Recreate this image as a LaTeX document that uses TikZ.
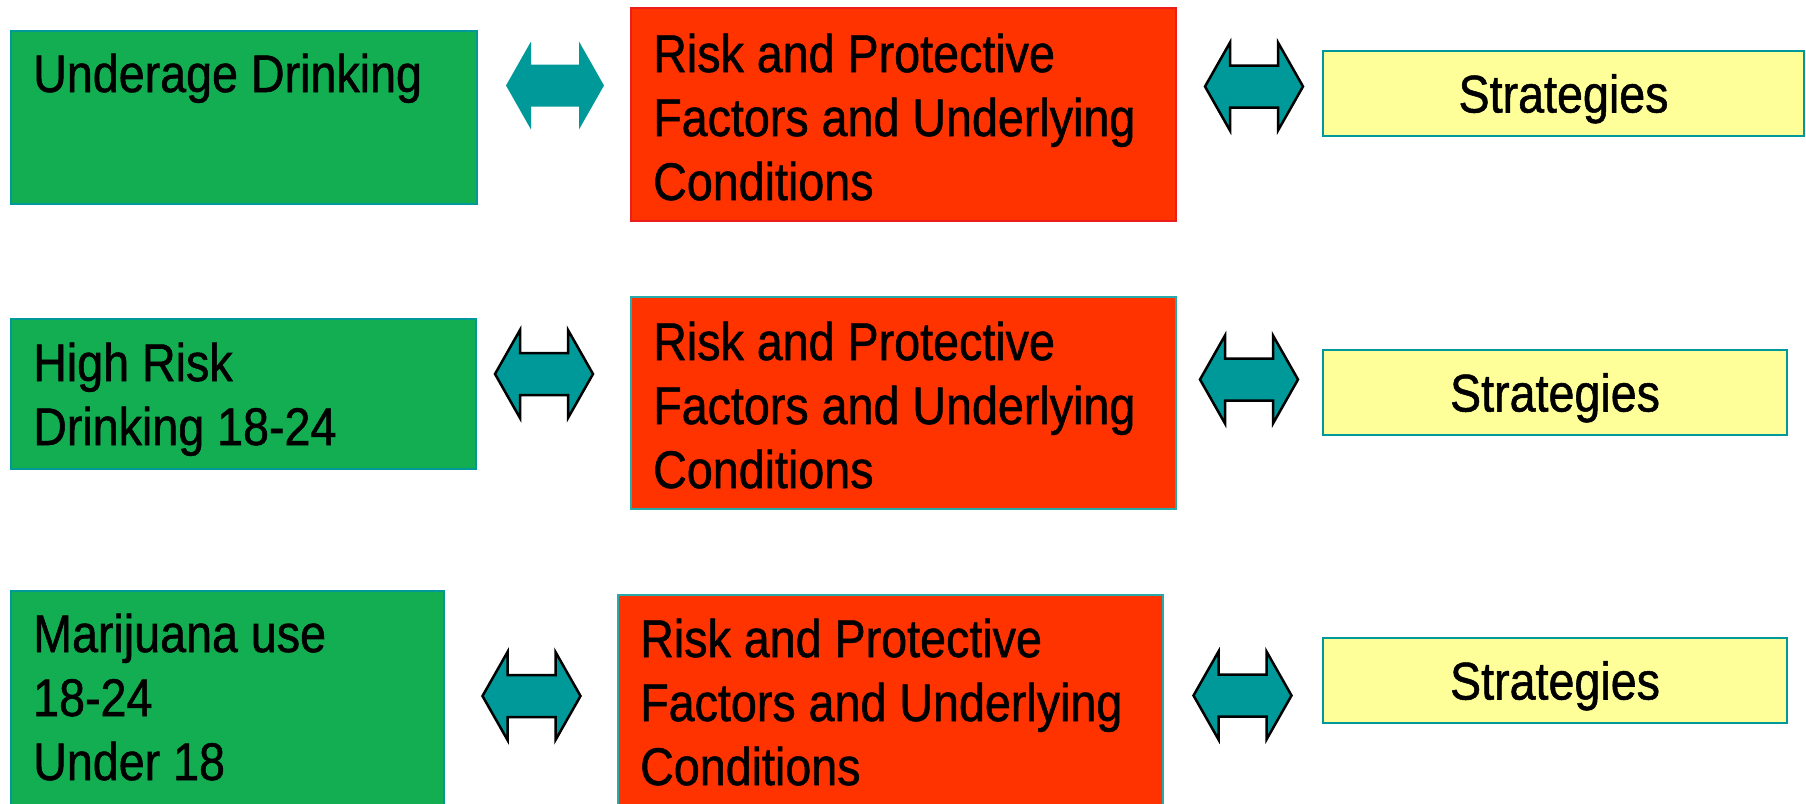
\documentclass[tikz,border=0pt]{standalone}
\usepackage{fontspec}
\setmainfont{Liberation Sans}[FakeStretch=0.88, FakeBold=1]
\definecolor{boxgreen}{RGB}{20,174,82}
\definecolor{tealc}{RGB}{0,153,153}
\definecolor{boxred}{RGB}{255,51,0}
\definecolor{boxyellow}{RGB}{255,255,153}
\definecolor{redline}{RGB}{235,30,30}
\definecolor{lightteal}{RGB}{40,170,170}
\tikzset{
  dblarr/.pic={\path[pic actions] (-49,0) -- (-24,-44) -- (-24,-21) -- (24,-21) -- (24,-44) -- (49,0) -- (24,44) -- (24,21) -- (-24,21) -- (-24,44) -- cycle;}
}
\begin{document}
\begin{tikzpicture}[x=1pt,y=-1pt,
  box/.style={rectangle, anchor=north west, inner sep=0pt, line width=2pt},
  gbox/.style={box, fill=boxgreen, draw=tealc},
  rbox/.style={box, fill=boxred, draw=lightteal},
  ybox/.style={box, fill=boxyellow, draw=tealc, font=\fontsize{53}{64}\selectfont, text height=38pt, text depth=0pt},
  lbl/.style={anchor=base west, inner sep=0pt, font=\fontsize{53}{64}\selectfont},
  arr/.style={fill=tealc, draw=black, line width=2.5pt, line join=miter},
  arrnl/.style={fill=tealc, draw=none}
]
\useasboundingbox[fill=white] (0,0) rectangle (1806,803);

% row 1
\node[gbox, minimum width=466pt, minimum height=173pt] (g1) at (10,30) {};
\node[lbl] (g1t) at (33,92) {Underage Drinking};
\node[rbox, draw=redline, minimum width=545pt, minimum height=213pt] (r1) at (630,7) {};
\node[lbl] (r1t) at (653,72) {\begin{tabular}[t]{@{}l@{}}Risk and Protective\\Factors and Underlying\\Conditions\end{tabular}};
\node[ybox, minimum width=481pt, minimum height=85pt] (y1) at (1322,50) {Strategies};
\pic[arrnl] (a1) at (555,85.5) {dblarr};
\pic[arr] (a2) at (1254,86.5) {dblarr};

% row 2
\node[gbox, minimum width=465pt, minimum height=150pt] (g2) at (10,318) {};
\node[lbl] (g2t) at (33,381) {\begin{tabular}[t]{@{}l@{}}High Risk\\Drinking 18-24\end{tabular}};
\node[rbox, minimum width=545pt, minimum height=212pt] (r2) at (630,296) {};
\node[lbl] (r2t) at (653,360) {\begin{tabular}[t]{@{}l@{}}Risk and Protective\\Factors and Underlying\\Conditions\end{tabular}};
\node[ybox, minimum width=464pt, minimum height=85pt] (y2) at (1322,349) {Strategies};
\pic[arr] (a3) at (544,374) {dblarr};
\pic[arr] (a4) at (1249,379.5) {dblarr};

% row 3
\node[gbox, minimum width=433pt, minimum height=216pt] (g3) at (10,590) {};
\node[lbl] (g3t) at (33,652) {\begin{tabular}[t]{@{}l@{}}Marijuana use\\18-24\\Under 18\end{tabular}};
\node[rbox, minimum width=545pt, minimum height=212pt] (r3) at (617,594) {};
\node[lbl] (r3t) at (640,657) {\begin{tabular}[t]{@{}l@{}}Risk and Protective\\Factors and Underlying\\Conditions\end{tabular}};
\node[ybox, minimum width=464pt, minimum height=85pt] (y3) at (1322,637) {Strategies};
\pic[arr] (a5) at (531.5,696) {dblarr};
\pic[arr] (a6) at (1242.5,695.5) {dblarr};
\end{tikzpicture}
\end{document}
